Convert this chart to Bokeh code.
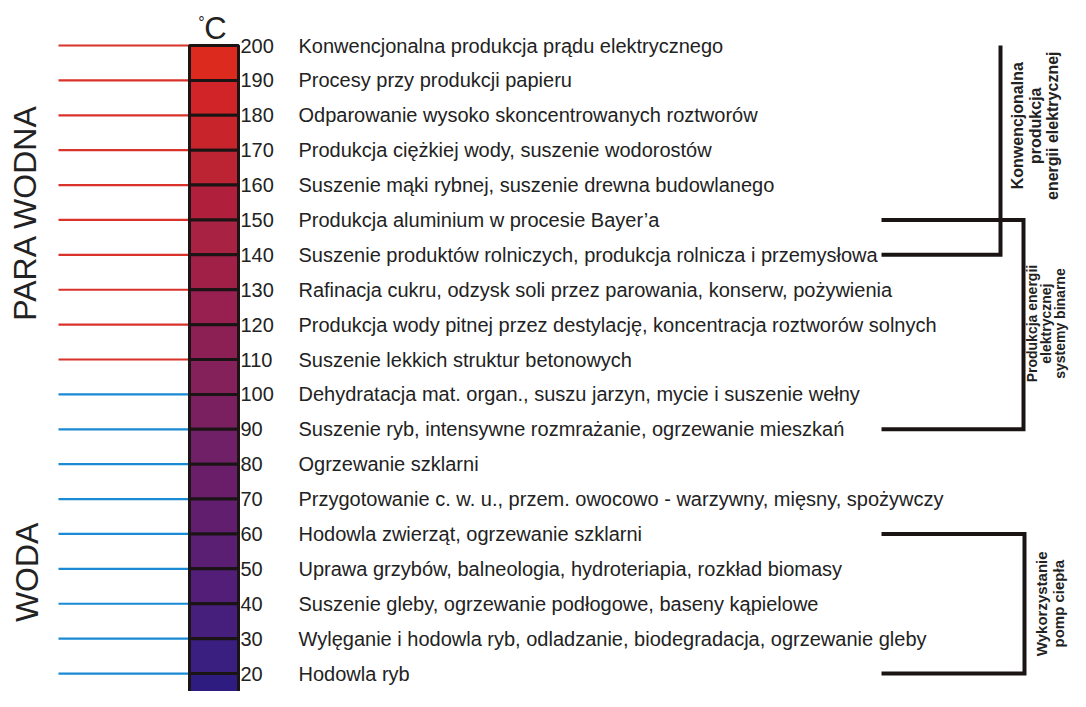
import math
from bokeh.plotting import figure
from bokeh.models import Range1d
from bokeh.core.properties import value
from bokeh.embed import file_html
from bokeh.resources import INLINE

# ---- data ----
temps = [200, 190, 180, 170, 160, 150, 140, 130, 120, 110,
         100, 90, 80, 70, 60, 50, 40, 30, 20]
tick_labels = [str(t) for t in temps]
descriptions = [
    "Konwencjonalna produkcja prądu elektrycznego",
    "Procesy przy produkcji papieru",
    "Odparowanie wysoko skoncentrowanych roztworów",
    "Produkcja ciężkiej wody, suszenie wodorostów",
    "Suszenie mąki rybnej, suszenie drewna budowlanego",
    "Produkcja aluminium w procesie Bayer’a",
    "Suszenie produktów rolniczych, produkcja rolnicza i przemysłowa",
    "Rafinacja cukru, odzysk soli przez parowania, konserw, pożywienia",
    "Produkcja wody pitnej przez destylację, koncentracja roztworów solnych",
    "Suszenie lekkich struktur betonowych",
    "Dehydratacja mat. organ., suszu jarzyn, mycie i suszenie wełny",
    "Suszenie ryb, intensywne rozmrażanie, ogrzewanie mieszkań",
    "Ogrzewanie szklarni",
    "Przygotowanie c. w. u., przem. owocowo - warzywny, mięsny, spożywczy",
    "Hodowla zwierząt, ogrzewanie szklarni",
    "Uprawa grzybów, balneologia, hydroteriapia, rozkład biomasy",
    "Suszenie gleby, ogrzewanie podłogowe, baseny kąpielowe",
    "Wylęganie i hodowla ryb, odladzanie, biodegradacja, ogrzewanie gleby",
    "Hodowla ryb",
]
segment_colors = ["#dc2a1e", "#d02428", "#c8242c", "#bc2434", "#b0203c",
                  "#a82244", "#a02048", "#982050", "#8c2054", "#84205a",
                  "#7a2060", "#702066", "#6a1e6a", "#621e6e", "#5a1e72",
                  "#521e78", "#461e7c", "#3a1e80", "#2e1c80"]
steam_min = 110  # red lines (PARA WODNA) from this temperature upward

# brackets: (top temp, bottom temp) and their labels
bracket_conv = (200, 140)
bracket_bin = (150, 90)
bracket_pump = (60, 20)
label_conv = ["Konwencjonalna", "produkcja", "energii elektrycznej"]
label_bin = ["Produkcja energii", "elektrycznej", "systemy binarne"]
label_pump = ["Wykorzystanie", "pomp ciepła"]

FONT = value("Liberation Sans")
TXT = "#222222"

p = figure(width=1070, height=691, output_backend="svg", toolbar_location=None,
           x_range=Range1d(0, 1070), y_range=Range1d(14.85, 212.9),
           min_border=0)
p.xaxis.visible = False
p.yaxis.visible = False
p.grid.visible = False
p.outline_line_color = None
p.background_fill_color = "white"

# left reference lines
BAR_L, BAR_R = 189, 238
line_col = ["#d8322a" if t >= steam_min else "#1a8ad4" for t in temps]
p.segment(x0=[58] * len(temps), x1=[BAR_L] * len(temps), y0=temps, y1=temps,
          line_color=line_col, line_width=2.2)

# thermometer bar
bottoms = [t - 10 for t in temps]
p.quad(left=[BAR_L] * len(temps), right=[BAR_R] * len(temps),
       top=temps, bottom=bottoms, fill_color=segment_colors,
       line_color="#1a1414", line_width=3)

# tick numbers
p.text(x=[240] * len(temps), y=temps, text=tick_labels, text_font=FONT,
       text_font_size="20px", text_color=TXT, text_align="left",
       text_baseline="middle")

# descriptions
p.text(x=[298] * len(temps), y=temps, text=descriptions, text_font=FONT,
       text_font_size="20px", text_color=TXT, text_align="left",
       text_baseline="middle")

# °C
p.text(x=[215], y=[204.9], text=["C"], text_font=FONT, text_font_size="31px",
       text_color=TXT, text_align="center", text_baseline="middle")
p.text(x=[201], y=[206.6], text=["°"], text_font=FONT, text_font_size="16px",
       text_color=TXT, text_align="center", text_baseline="middle")

# left rotated labels
p.text(x=[24], y=[152.1], text=["PARA WODNA"], angle=math.pi / 2,
       text_font=FONT, text_font_size="32px", text_color=TXT,
       text_align="center", text_baseline="middle")
p.text(x=[26], y=[49.0], text=["WODA"], angle=math.pi / 2,
       text_font=FONT, text_font_size="32px", text_color=TXT,
       text_align="center", text_baseline="middle")

# brackets
BK = "#1a1414"
LW = 4
x_start = 881
x_conv = 1000
x_bin = 1023
x_pump = 1024
p.line(x=[x_conv, x_conv, x_start], y=[bracket_conv[0], bracket_conv[1], bracket_conv[1]],
       line_color=BK, line_width=LW, line_join="miter")
p.line(x=[x_start, x_bin, x_bin, x_start],
       y=[bracket_bin[0], bracket_bin[0], bracket_bin[1], bracket_bin[1]],
       line_color=BK, line_width=LW, line_join="miter")
p.line(x=[x_start, x_pump, x_pump, x_start],
       y=[bracket_pump[0], bracket_pump[0], bracket_pump[1], bracket_pump[1]],
       line_color=BK, line_width=LW, line_join="miter")

# bracket labels (rotated)
def rot_lines(xs, yc, lines, size):
    p.text(x=xs, y=[yc] * len(lines), text=lines, angle=math.pi / 2,
           text_font=FONT, text_font_size=size, text_font_style="bold",
           text_color=TXT, text_align="center", text_baseline="middle")

rot_lines([1017, 1035, 1052], 177.0, label_conv, "16px")
rot_lines([1031, 1045, 1059], 120.3, label_bin, "14px")
rot_lines([1041, 1058], 40.0, label_pump, "15px")

open("out.html", "w").write(file_html(p, INLINE))
